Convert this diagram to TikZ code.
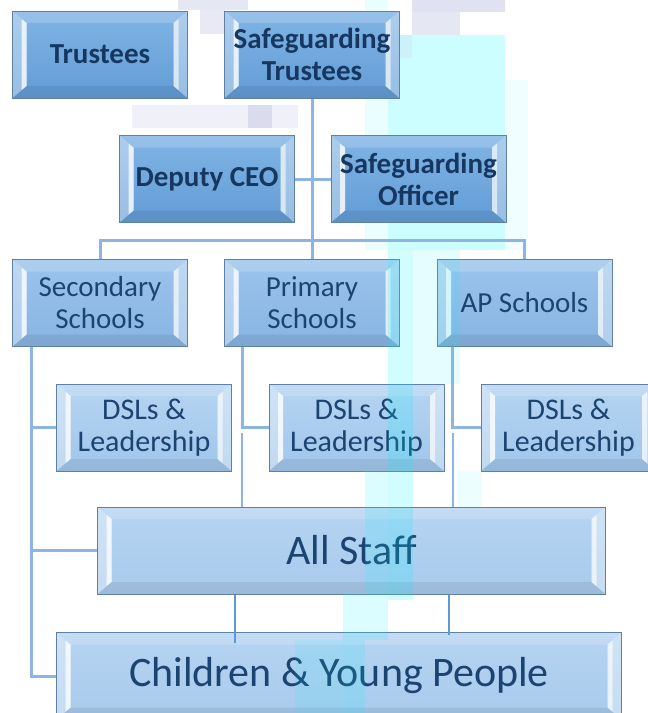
\documentclass[tikz,border=0pt]{standalone}
\usepackage{fontspec}
\setmainfont{Carlito}
\usetikzlibrary{positioning}

\definecolor{boxline}{RGB}{96,128,162}
\definecolor{textblue}{RGB}{28,68,112}
\definecolor{linkblue}{RGB}{141,180,226}
\definecolor{thinblue}{RGB}{91,155,213}
\definecolor{lavender}{RGB}{205,208,232}
\definecolor{aqua}{RGB}{0,245,255}

\tikzset{
  orgbox/.style={draw=boxline, line width=1pt, inner sep=0pt, align=center,
    minimum width=175pt, minimum height=87pt, text=textblue,
    font=\fontsize{29}{32}\selectfont,
    path picture={
      \coordinate (o1) at (path picture bounding box.south west);
      \coordinate (o2) at (path picture bounding box.north west);
      \coordinate (o3) at (path picture bounding box.north east);
      \coordinate (o4) at (path picture bounding box.south east);
      \coordinate (i1) at ([shift={(14pt,12pt)}]o1);
      \coordinate (i2) at ([shift={(14pt,-12pt)}]o2);
      \coordinate (i3) at ([shift={(-14pt,-12pt)}]o3);
      \coordinate (i4) at ([shift={(-14pt,12pt)}]o4);
      % bevel faces
      \fill[white, opacity=.18] (o2) -- (o3) -- (i3) -- (i2) -- cycle;
      \fill[black, opacity=.07] (o1) -- (o4) -- (i4) -- (i1) -- cycle;
      \fill[white, opacity=.35] (o1) -- (o2) -- (i2) -- (i1) -- cycle;
      \fill[white, opacity=.35] (o4) -- (o3) -- (i3) -- (i4) -- cycle;
      % highlights along the inner edges
      \fill[white, opacity=.75] (i2) -- (i1) -- ([xshift=-5pt,yshift=-4pt]i1) -- ([xshift=-5pt,yshift=4pt]i2) -- cycle;
      \fill[white, opacity=.6] (i3) -- (i4) -- ([xshift=5pt,yshift=-4pt]i4) -- ([xshift=5pt,yshift=4pt]i3) -- cycle;
    }},
  topbox/.style={orgbox, top color={rgb,255:red,128;green,180;blue,228},
    bottom color={rgb,255:red,98;green,156;blue,214}, text={rgb,255:red,22;green,55;blue,95},
    font=\fontsize{29}{32}\selectfont\bfseries},
  schoolbox/.style={orgbox, top color={rgb,255:red,155;green,196;blue,236},
    bottom color={rgb,255:red,135;green,180;blue,226}},
  dslbox/.style={orgbox, top color={rgb,255:red,182;green,212;blue,242},
    bottom color={rgb,255:red,160;green,198;blue,234}, font=\fontsize{30}{32}\selectfont},
  widebox/.style={orgbox, top color={rgb,255:red,182;green,212;blue,242},
    bottom color={rgb,255:red,168;green,202;blue,236}, font=\fontsize{42}{48}\selectfont},
  link/.style={draw=linkblue, line width=3pt},
  thinlink/.style={draw=thinblue, line width=1.6pt},
  tint/.style={fill=aqua, opacity=.18}
}

\begin{document}
\begin{tikzpicture}[x=1pt,y=1pt]
  \useasboundingbox (0,0) rectangle (648,-713);
  \clip (0,0) rectangle (648,-713);
  \fill[white] (0,0) rectangle (648,-713);

  % Background pixel squares and cyan band behind the top boxes
  \fill[lavender, opacity=.5] (178,0) rectangle (248,-10);
  \fill[lavender, opacity=.45] (200,-10) rectangle (226,-34);
  \fill[lavender, opacity=.3] (132,-105) rectangle (298,-128);
  \fill[lavender, opacity=.6] (248,-105) rectangle (272,-128);
  \fill[tint, opacity=.08] (365,0) rectangle (388,-250);
  \fill[tint, opacity=.2] (388,-35) rectangle (505,-250);
  \fill[tint, opacity=.06] (505,-80) rectangle (528,-250);
  \fill[lavender, opacity=.6] (412,0) rectangle (505,-12);
  \fill[lavender, opacity=.5] (412,-12) rectangle (460,-35);
  \fill[lavender, opacity=.25] (388,-35) rectangle (412,-58);

  % Top of the tree
  \node[topbox] (trust) at (100,-54.5) {Trustees};
  \node[topbox] (sgtrust) at (312,-54.5) {Safeguarding\\Trustees};
  \node[topbox] (dceo) at (207,-179) {Deputy CEO};
  \node[topbox] (sgoff) at (418.5,-179) {Safeguarding\\Officer};

  % Schools
  \node[schoolbox] (sec) at (100,-303) {Secondary\\Schools};
  \node[schoolbox] (prim) at (312,-303) {Primary\\Schools};
  \node[schoolbox] (ap) at (524.5,-303) {AP Schools};

  % DSLs
  \node[dslbox] (dsl1) at (144,-427.5) {DSLs \&\\Leadership};
  \node[dslbox] (dsl2) at (356.5,-427.5) {DSLs \&\\Leadership};
  \node[dslbox] (dsl3) at (568.5,-427.5) {DSLs \&\\Leadership};

  % Staff and children
  \node[widebox, minimum width=508pt] (staff) at (351.5,-550.5) {All Staff};
  \node[widebox, minimum width=565pt] (kids) at (339,-676) {Children \& Young People};

  % Connectors
  \coordinate (bus) at (312,-240);
  \draw[link] (sgtrust.south) -- (bus);
  \draw[link] (dceo.east) -- (sgoff.west);
  \draw[link] (sec.north) |- (bus) -| (ap.north);
  \draw[link] (bus) -- (prim.north);

  \coordinate (secdrop) at ([xshift=19pt]sec.south west);
  \coordinate (primdrop) at ([xshift=18pt]prim.south west);
  \coordinate (apdrop) at ([xshift=16pt]ap.south west);
  \draw[link] (secdrop) |- (kids.west);
  \draw[link] (secdrop) |- (dsl1.west);
  \draw[link] (secdrop) |- (staff.west);
  \draw[link] (primdrop) |- (dsl2.west);
  \draw[link] (apdrop) |- (dsl3.west);
  \coordinate (primgap) at ([yshift=-5pt]primdrop |- dsl2.west);
  \coordinate (apgap) at ([yshift=-5pt]apdrop |- dsl3.west);
  \draw[link, line width=2pt] (primgap) -- (primdrop |- staff.north);
  \draw[link, line width=2pt] (apgap) -- (apdrop |- staff.north);

  \coordinate (kidsleft) at ([xshift=138pt]staff.south west);
  \coordinate (kidsright) at ([xshift=352pt]staff.south west);
  \coordinate (kidsleftend) at ([yshift=-11pt]kidsleft |- kids.north);
  \coordinate (kidsrightend) at ([yshift=-3pt]kidsright |- kids.north);
  \draw[thinlink] (kidsleft) -- (kidsleftend);
  \draw[thinlink] (kidsright) -- (kidsrightend);

  % Cyan band laid over the lower boxes
  \fill[tint] (388,-250) rectangle (413,-600);
  \fill[tint, opacity=.1] (413,-250) rectangle (460,-384);
  \fill[tint, opacity=.14] (365,-471) rectangle (388,-640);
  \fill[tint, opacity=.14] (343,-594) rectangle (365,-713);
  \fill[tint, opacity=.1] (295,-640) rectangle (343,-713);
  \fill[tint, opacity=.07] (458,-471) rectangle (482,-507);
\end{tikzpicture}
\end{document}
